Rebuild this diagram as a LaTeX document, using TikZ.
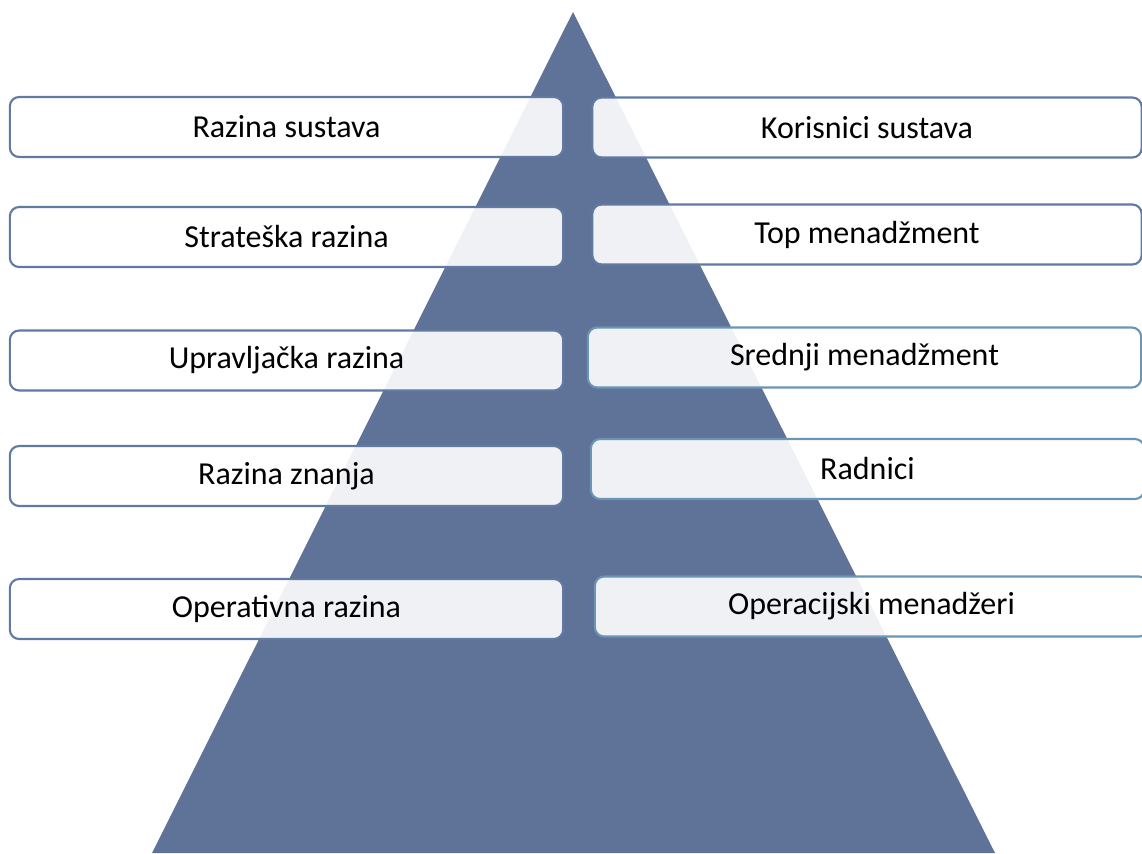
\documentclass[tikz,border=0pt]{standalone}
\usepackage{fontspec}
\setmainfont{Carlito}
\usetikzlibrary{positioning}
\definecolor{pyramid}{RGB}{95,115,153}
\definecolor{slateline}{RGB}{96,122,162}
\definecolor{tealline}{RGB}{106,149,180}
\tikzstyle{levelbox}=[rectangle,rounded corners=7pt,draw=slateline,line width=1.6pt,fill=white,fill opacity=0.9,text opacity=1,minimum height=45pt,inner sep=0pt,font=\fontsize{24}{28}\selectfont]
\tikzstyle{usersbox}=[levelbox,draw=tealline]

\begin{document}
\begin{tikzpicture}[x=0.75pt,y=-0.75pt]
\useasboundingbox (0,0) rectangle (1142,853);

%Pyramid
    \coordinate (apex) at (573,12);
    \coordinate (baseL) at (152,853);
    \coordinate (baseR) at (995,853);
    \fill[pyramid] (apex) -- (baseL) -- (baseR) -- cycle;

%Levels
    \foreach \pos/\name/\label in {{(286.5,127)/l1/Razina sustava}, {(286.5,237)/l2/Strateška razina}, {(286.5,360.5)/l3/Upravljačka razina}, {(286.5,476)/l4/Razina znanja}, {(286.5,609)/l5/Operativna razina}}
        \node[levelbox, minimum width=415pt] (\name) at \pos {\label};

%Users
    \foreach \pos/\name/\label in {{(867,127.5)/r1/Korisnici sustava}, {(867,234.5)/r2/Top menadžment}}
        \node[levelbox, minimum width=412pt] (\name) at \pos {\label};
    \foreach \pos/\name/\label in {{(864.5,357.5)/r3/Srednji menadžment}, {(867.5,469)/r4/Radnici}, {(871.5,606.5)/r5/Operacijski menadžeri}}
        \node[usersbox, minimum width=415pt] (\name) at \pos {\label};

\end{tikzpicture}
\end{document}
